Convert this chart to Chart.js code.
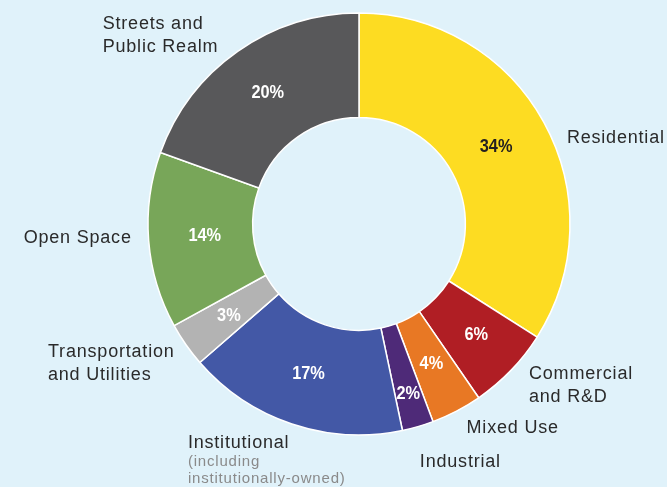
<!DOCTYPE html>
<html>
<head>
<meta charset="utf-8">
<script src="https://cdn.jsdelivr.net/npm/chart.js@4"></script>
<style>
  html, body { margin: 0; padding: 0; background: #e0f2fa; }
  #wrap { width: 667px; height: 487px; position: relative; }
</style>
</head>
<body>
<div id="wrap"><canvas id="chart" width="667" height="487"></canvas></div>
<script>
// land use share, clockwise from 12 o'clock (slice sizes)
const categories = ['Residential', 'Commercial and R&D', 'Mixed Use', 'Industrial',
    'Institutional', 'Transportation and Utilities', 'Open Space', 'Streets and Public Realm'];
const shares = [34.0, 6.4, 3.9, 2.4, 16.9, 3.4, 13.5, 19.5];
// percentages as printed on the slices
const pctLabels = ['34%', '6%', '4%', '2%', '17%', '3%', '14%', '20%'];
const labelLines = [
    ['Residential'],
    ['Commercial', 'and R&D'],
    ['Mixed Use'],
    ['Industrial'],
    ['Institutional'],
    ['Transportation', 'and Utilities'],
    ['Open Space'],
    ['Streets and', 'Public Realm'],
];
const subLines = [[], [], [], [], ['(including', 'institutionally-owned)'], [], [], []];

const colors = ['#fddc22', '#b01e24', '#e87824', '#4e2a78', '#4358a6', '#b3b3b3', '#78a659', '#58585a'];
const pctColors = ['#231f20', '#fff', '#fff', '#fff', '#fff', '#fff', '#fff', '#fff'];

// where each outside label sits, relative to the outer middle of its slice
const labelOffsets = [[23, 21], [18, 9], [10, 22], [2, 40], [-104, 24], [-138, 12], [-125, 2], [-135, -22]];
const pctShift = [[-2, -1], [3, 1], [-1, -1], [5, 17], [0, -1], [0, 1], [4, -1], [0, -1]];

const labelPlugin = {
    id: 'sliceLabels',
    afterDatasetsDraw(chart) {
        const ctx = chart.ctx;
        const arcs = chart.getDatasetMeta(0).data;
        ctx.save();
        arcs.forEach((arc, i) => {
            const c = arc.getCenterPoint();
            const px = c.x + pctShift[i][0];
            const py = c.y + pctShift[i][1];
            // squeeze horizontally to get the condensed bold look
            ctx.save();
            ctx.translate(px, py);
            ctx.scale(0.86, 1);
            ctx.font = 'bold 19px "Liberation Sans", Arial, sans-serif';
            ctx.fillStyle = pctColors[i];
            ctx.textAlign = 'center';
            ctx.textBaseline = 'middle';
            ctx.fillText(pctLabels[i], 0, 0);
            ctx.restore();

            const mid = (arc.startAngle + arc.endAngle) / 2;
            const ox = arc.x + Math.cos(mid) * arc.outerRadius + labelOffsets[i][0];
            let oy = arc.y + Math.sin(mid) * arc.outerRadius + labelOffsets[i][1];
            ctx.textAlign = 'left';
            ctx.textBaseline = 'alphabetic';
            ctx.font = '18px "Liberation Sans", Arial, sans-serif';
            ctx.letterSpacing = '0.8px';
            ctx.fillStyle = '#2a2a2a';
            labelLines[i].forEach((line, k) => {
                ctx.fillText(line, ox, oy + k * 23);
            });
            oy += (labelLines[i].length - 1) * 23;
            ctx.font = '15px "Liberation Sans", Arial, sans-serif';
            ctx.fillStyle = '#8a8a8a';
            subLines[i].forEach((line, k) => {
                ctx.fillText(line, ox, oy + 18 + k * 17);
            });
            ctx.letterSpacing = '0px';
        });
        ctx.restore();
    }
};

new Chart(document.getElementById('chart'), {
    type: 'doughnut',
    data: {
        labels: categories,
        datasets: [{
            data: shares,
            backgroundColor: colors,
            borderColor: '#ffffff',
            borderWidth: 1.5,
            hoverOffset: 0,
        }],
    },
    options: {
        responsive: false,
        animation: false,
        radius: 211,
        cutout: 106,
        layout: { padding: { left: 148, right: 97, top: 13, bottom: 52 } },
        plugins: {
            legend: { display: false },
            tooltip: { enabled: false },
        },
    },
    plugins: [labelPlugin],
});
</script>
</body>
</html>
